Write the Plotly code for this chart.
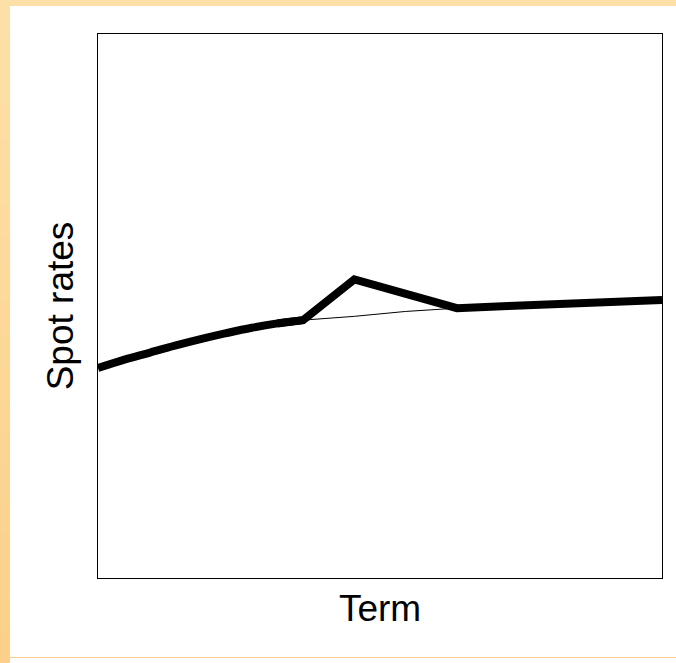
import plotly.graph_objects as go

# Term (years) and spot rates (%)
terms_smooth = [0, 0.5, 1, 1.5, 2, 2.5, 3, 3.5, 4, 5, 6, 7, 8, 9, 10, 11]
rates_smooth = [3.86, 4.01, 4.14, 4.27, 4.39, 4.50, 4.60, 4.68, 4.74, 4.81, 4.90, 4.96, 5.00, 5.04, 5.08, 5.11]

# short-end part of the thick curve (smooth)
terms_short = [0, 0.5, 1, 1.5, 2, 2.5, 3, 3.5, 4]
rates_short = [3.86, 4.01, 4.14, 4.27, 4.39, 4.50, 4.60, 4.68, 4.74]
# long-end part of the thick curve with the kink
terms_long = [3.5, 4, 5, 7, 8, 9, 10, 11]
rates_long = [4.68, 4.74, 5.49, 4.96, 5.00, 5.04, 5.08, 5.11]

W, H = 676, 663
L, R, T, B = 98, 14, 34, 85
pw, ph = W - L - R, H - T - B

def px_x(p):
    return (p - L) / pw

def px_y(p):
    return 1 - (p - T) / ph

fig = go.Figure()
fig.add_trace(go.Scatter(x=terms_smooth, y=rates_smooth, mode="lines",
                         line=dict(color="black", width=1), hoverinfo="skip", showlegend=False))
fig.add_trace(go.Scatter(x=terms_short, y=rates_short, mode="lines",
                         line=dict(color="black", width=8, shape="spline", smoothing=1), showlegend=False))
fig.add_trace(go.Scatter(x=terms_long, y=rates_long, mode="lines",
                         line=dict(color="black", width=8), showlegend=False))

shapes = []
# top bar
shapes.append(dict(type="rect", xref="paper", yref="paper", x0=px_x(0), x1=px_x(W), y0=px_y(0), y1=px_y(6),
                   fillcolor="#FDE0A8", line=dict(width=0), layer="below"))
# left bar with vertical gradient
n = 20
c0 = (0xFD, 0xE0, 0xA8)
c1 = (0xFC, 0xD0, 0x88)
for i in range(n):
    y0p = 6 + (H - 6) * i / n
    y1p = 6 + (H - 6) * (i + 1) / n
    t = (i + 0.5) / n
    col = "rgb(%d,%d,%d)" % tuple(round(a + (b - a) * t) for a, b in zip(c0, c1))
    shapes.append(dict(type="rect", xref="paper", yref="paper", x0=px_x(0), x1=px_x(10),
                       y0=px_y(y0p), y1=px_y(y1p + 0.5), fillcolor=col, line=dict(width=0), layer="below"))
# bottom thin line
shapes.append(dict(type="rect", xref="paper", yref="paper", x0=px_x(10), x1=px_x(W), y0=px_y(657), y1=px_y(658),
                   fillcolor="#FCD08C", line=dict(width=0), layer="below"))

fig.update_layout(
    width=W, height=H,
    margin=dict(l=L, r=R, t=T, b=B, pad=0),
    paper_bgcolor="white", plot_bgcolor="white",
    font=dict(family="Liberation Sans, Arial, sans-serif", color="black"),
    shapes=shapes,
    xaxis=dict(range=[0, 11], showticklabels=False, ticks="", showgrid=False, zeroline=False,
               showline=True, mirror=True, linecolor="black", linewidth=1,
               title=dict(text="Term", font=dict(size=37), standoff=17)),
    yaxis=dict(range=[0, 10], showticklabels=False, ticks="", showgrid=False, zeroline=False,
               showline=True, mirror=True, linecolor="black", linewidth=1,
               title=dict(text="Spot rates", font=dict(size=37), standoff=12)),
)

fig.write_html("out.html", config={"displayModeBar": False},
               post_script="document.body.style.margin='0';document.body.style.overflow='hidden';")
